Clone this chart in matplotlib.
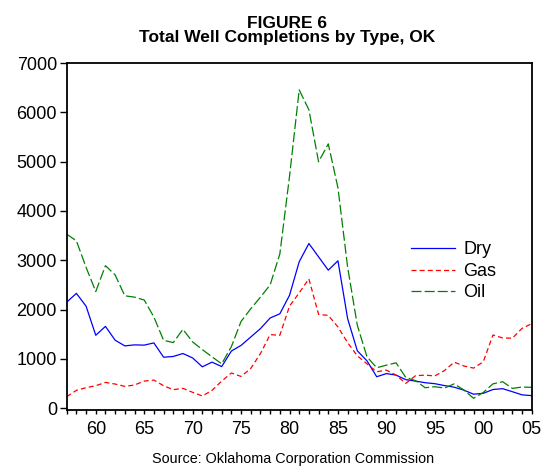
import numpy as np
import matplotlib
matplotlib.use("Agg")
import matplotlib.pyplot as plt
from matplotlib.ticker import MultipleLocator, FixedLocator

plt.rcParams["font.family"] = ["Liberation Sans", "DejaVu Sans"]

# Oklahoma well completions by type, 1957-2005
years = list(range(1957, 2006))

dry = [2150, 2330, 2070, 1480, 1660, 1380, 1265, 1285, 1280, 1325,
       1035, 1050, 1110, 1020, 840, 935, 845, 1160, 1275, 1445,
       1615, 1830, 1915, 2290, 2970, 3340, 3070, 2800, 2990, 1816,
       1165, 960, 639, 703, 672, 580, 551, 518, 498, 460,
       427, 367, 285, 303, 380, 397, 336, 272, 256]

gas = [235, 363, 417, 457, 524, 491, 444, 471, 551, 571,
       457, 377, 403, 323, 249, 363, 551, 715, 645, 807,
       1110, 1493, 1479, 2070, 2340, 2623, 1903, 1883, 1648, 1330,
       1063, 900, 740, 773, 672, 504, 659, 672, 655, 765,
       935, 857, 814, 942, 1485, 1426, 1420, 1620, 1715]

oil = [3530, 3395, 2858, 2367, 2891, 2703, 2280, 2253, 2195, 1850,
       1378, 1331, 1600, 1345, 1190, 1042, 901, 1250, 1761, 2017,
       2253, 2501, 3127, 4700, 6455, 6052, 4997, 5360, 4470, 2860,
       1681, 1042, 821, 874, 921, 625, 560, 417, 437, 410,
       495, 370, 202, 320, 495, 538, 403, 430, 424]

tick_years = [1960, 1965, 1970, 1975, 1980, 1985, 1990, 1995, 2000, 2005]
tick_labels = ["60", "65", "70", "75", "80", "85", "90", "95", "00", "05"]

fig = plt.figure(figsize=(5.44, 4.66), dpi=100)
ax = fig.add_axes([0.1226, 0.1202, 0.8548, 0.7446])

ax.plot(years, dry, color="#0000ff", linewidth=0.9, label="Dry")
ax.plot(years, gas, color="#ff0000", linewidth=0.9, dashes=(4, 2.5), label="Gas")
ax.plot(years, oil, color="#008000", linewidth=0.9, dashes=(8, 2.5), label="Oil")

ax.set_xlim(1957, 2005)
ax.set_ylim(-35, 7000)
ax.xaxis.set_major_locator(FixedLocator(tick_years))
ax.set_xticklabels(tick_labels)
ax.xaxis.set_minor_locator(MultipleLocator(1))
ax.yaxis.set_major_locator(MultipleLocator(1000))

ax.tick_params(axis="both", which="both", direction="out", width=1, labelsize=13)
ax.tick_params(axis="x", which="both", length=3, pad=5)
ax.tick_params(axis="y", which="major", length=5, pad=2)
for spine in ax.spines.values():
    spine.set_linewidth(1.3)

ax.legend(loc="upper left", bbox_to_anchor=(0.7555, 0.482),
          bbox_transform=fig.transFigure, frameon=False, fontsize=13,
          handlelength=2.45, handletextpad=0.45, labelspacing=0.25,
          borderpad=0, borderaxespad=0)

# two-line title, placed by baseline so the lines sit tight like the original
fig.text(0.528, 0.940, "FIGURE 6", ha="center", va="baseline",
         fontsize=12.5, fontweight="bold")
fig.text(0.528, 0.9105, "Total Well Completions by Type, OK", ha="center",
         va="baseline", fontsize=12.5, fontweight="bold")
fig.text(0.539, 0.015, "Source: Oklahoma Corporation Commission", ha="center",
         va="center", fontsize=10.4)

fig.savefig("out.png", dpi=100)
